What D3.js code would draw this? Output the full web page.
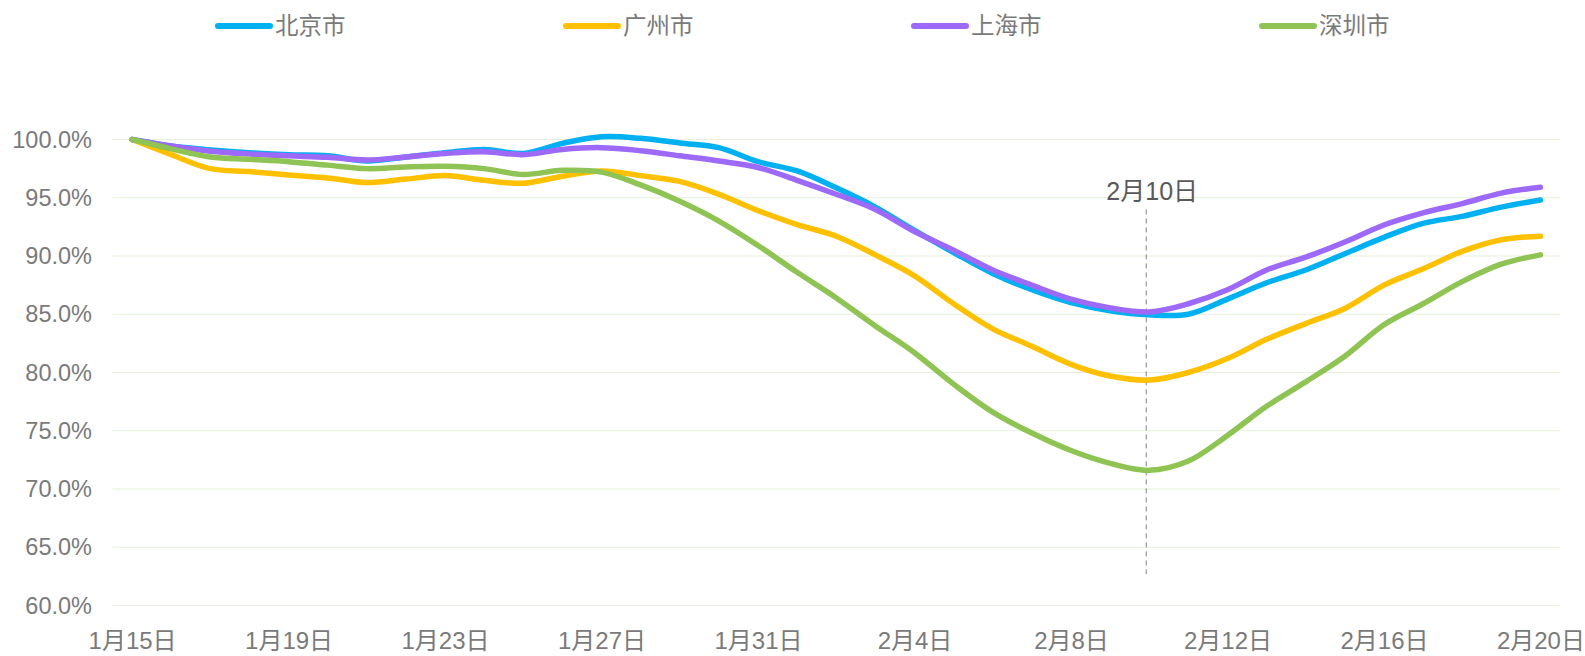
<!DOCTYPE html>
<html lang="zh">
<head>
  <meta charset="UTF-8">
  <title>城市指数</title>
  <script src="https://d3js.org/d3.v7.min.js"></script>
  <style>
    body { margin: 0; background: #fff; }
    text { font-family: "Liberation Sans", "Noto Sans CJK SC", sans-serif; }
  </style>
</head>
<body>
  <svg id="chart" width="1585" height="656"></svg>

  <script>
    const days = [
      "1月15日","1月16日","1月17日","1月18日","1月19日","1月20日","1月21日","1月22日",
      "1月23日","1月24日","1月25日","1月26日","1月27日","1月28日","1月29日","1月30日",
      "1月31日","2月1日","2月2日","2月3日","2月4日","2月5日","2月6日","2月7日",
      "2月8日","2月9日","2月10日","2月11日","2月12日","2月13日","2月14日","2月15日",
      "2月16日","2月17日","2月18日","2月19日","2月20日"
    ];

    const beijing = [100, 99.44, 99.1, 98.87, 98.7, 98.6, 98.15, 98.5, 98.87, 99.15, 98.8, 99.67,
      100.24, 100.1, 99.7, 99.3, 98.1, 97.3, 95.85, 94.2, 92.2, 90.3, 88.5, 87.1, 86.0, 85.3,
      84.95, 85.0, 86.3, 87.7, 88.8, 90.2, 91.6, 92.8, 93.4, 94.2, 94.8];
    const guangzhou = [100, 98.7, 97.5, 97.25, 96.95, 96.7, 96.3, 96.6, 96.9, 96.5, 96.25, 96.85,
      97.3, 96.9, 96.4, 95.3, 93.9, 92.7, 91.7, 90.1, 88.3, 85.9, 83.75, 82.25, 80.7, 79.7,
      79.35, 80.0, 81.2, 82.85, 84.2, 85.5, 87.5, 88.9, 90.4, 91.4, 91.7];
    const shanghai = [100, 99.44, 99.0, 98.76, 98.6, 98.47, 98.24, 98.5, 98.8, 98.95, 98.7, 99.15,
      99.3, 99.04, 98.6, 98.15, 97.6, 96.5, 95.3, 94.0, 92.1, 90.5, 88.8, 87.5, 86.3, 85.55,
      85.2, 85.9, 87.1, 88.8, 89.9, 91.2, 92.66, 93.7, 94.5, 95.4, 95.9];
    const shenzhen = [100, 99.2, 98.5, 98.3, 98.1, 97.8, 97.5, 97.65, 97.7, 97.5, 97.0, 97.35,
      97.2, 96.1, 94.7, 93.0, 90.9, 88.6, 86.4, 84.0, 81.7, 79.0, 76.6, 74.8, 73.3, 72.2,
      71.6, 72.4, 74.6, 77.1, 79.2, 81.4, 84.1, 85.9, 87.8, 89.3, 90.1];

    const seriesNames = ["北京市", "广州市", "上海市", "深圳市"];
    const seriesColors = ["#00B0F0", "#FFC000", "#9D69F8", "#8FC454"];
    const seriesValues = [beijing, guangzhou, shanghai, shenzhen];
    const yTicks = [60, 65, 70, 75, 80, 85, 90, 95, 100];
    const markDay = "2月10日";

    const svg = d3.select("#chart");
    const fontStack = "\"Liberation Sans\", \"Noto Sans CJK SC\", sans-serif";

    const x = d3.scalePoint()
      .domain(days)
      .range([112.5, 1560])
      .padding(0.5);

    const y = d3.scaleLinear()
      .domain([60, 100])
      .range([605.5, 139.5]);

    // gridlines
    svg.append("g")
      .selectAll("line")
      .data(yTicks)
      .join("line")
      .attr("x1", 112.5)
      .attr("x2", 1560)
      .attr("y1", d => y(d))
      .attr("y2", d => y(d))
      .attr("stroke", "#E6F0DA")
      .attr("stroke-width", 1.2);

    // y axis
    const yAxis = svg.append("g")
      .attr("transform", "translate(112,0)")
      .call(d3.axisLeft(y).tickValues(yTicks).tickSize(0).tickPadding(20)
        .tickFormat(d => d.toFixed(1) + "%"));
    yAxis.select(".domain").remove();
    yAxis.selectAll("text")
      .attr("fill", "#7a7a7a")
      .attr("font-size", "23.5px")
      .style("font-family", fontStack);

    // x axis
    const xAxis = svg.append("g")
      .attr("transform", "translate(0,622)")
      .call(d3.axisBottom(x).tickValues(days.filter((d, i) => i % 4 === 0)).tickSize(0).tickPadding(10));
    xAxis.select(".domain").remove();
    xAxis.selectAll("text")
      .attr("fill", "#7a7a7a")
      .attr("font-size", "24px")
      .style("font-family", fontStack);

    // marker line
    svg.append("line")
      .attr("x1", x(markDay) - 3)
      .attr("x2", x(markDay) - 3)
      .attr("y1", y(94))
      .attr("y2", y(62.7))
      .attr("stroke", "#7f7f7f")
      .attr("stroke-width", 1)
      .attr("stroke-dasharray", "5,4");

    svg.append("text")
      .attr("x", x(markDay) + 3)
      .attr("y", y(94) - 9)
      .attr("text-anchor", "middle")
      .attr("fill", "#595959")
      .attr("font-size", "25px")
      .text(markDay);

    // lines
    const line = d3.line()
      .x((d, i) => x(days[i]))
      .y(d => y(d))
      .curve(d3.curveCatmullRom.alpha(0.5));

    seriesValues.forEach((vals, k) => {
      svg.append("path")
        .datum(vals)
        .attr("d", line)
        .attr("fill", "none")
        .attr("stroke", seriesColors[k])
        .attr("stroke-width", 5.5)
        .attr("stroke-linecap", "round")
        .attr("stroke-linejoin", "round");
    });

    // legend
    const legend = svg.append("g")
      .selectAll("g")
      .data(seriesNames)
      .join("g")
      .attr("transform", (d, i) => `translate(${216 + i * 348},26)`);

    legend.append("line")
      .attr("x1", 2)
      .attr("x2", 54)
      .attr("stroke", (d, i) => seriesColors[i])
      .attr("stroke-width", 6)
      .attr("stroke-linecap", "round");

    legend.append("text")
      .attr("x", 59)
      .attr("dy", "0.35em")
      .attr("fill", "#7a7a7a")
      .attr("font-size", "23.5px")
      .text(d => d);
  </script>
</body>
</html>
